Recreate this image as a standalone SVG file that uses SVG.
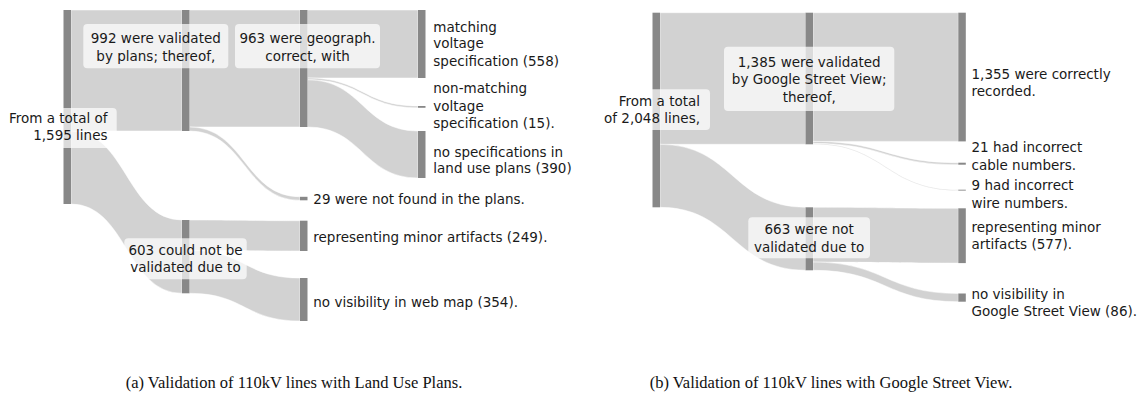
<svg xmlns="http://www.w3.org/2000/svg" width="1140" height="401" viewBox="0 0 1140 401">
<style>
.bar{fill:#888888}
.lk{fill:#d2d2d2;stroke:#ffffff;stroke-width:0.5}
.box{fill:#ffffff;fill-opacity:0.7}
text{font-family:"DejaVu Sans",sans-serif;font-size:13.5px;fill:#1a1a1a}
.mid{text-anchor:middle}
.end{text-anchor:end}
.cap{font-family:"Liberation Serif","Times New Roman",serif;font-size:16.5px;fill:#111;text-anchor:middle}
</style>
<rect width="1140" height="401" fill="#ffffff"/>
<g id="connectors">
<path class="lk" d="M71 10 L182 10 L182 131 L71 131 Z"/>
<path class="lk" d="M71 131 C126.5 131 126.5 220 182 220 L182 293.3 C126.5 293.3 126.5 204 71 204 Z"/>
<path class="lk" d="M189.5 10 L300 10 L300 127 L189.5 127 Z"/>
<path class="lk" d="M189.5 127 C244.75 127 244.75 196.8 300 196.8 L300 200.3 C244.75 200.3 244.75 131 189.5 131 Z"/>
<path class="lk" d="M189.5 220 C244.75 220 244.75 220.7 300 220.7 L300 251 C244.75 251 244.75 250.3 189.5 250.3 Z"/>
<path class="lk" d="M189.5 250.3 C244.75 250.3 244.75 278 300 278 L300 321 C244.75 321 244.75 293.3 189.5 293.3 Z"/>
<path class="lk" d="M307.5 10 L418 10 L418 78 L307.5 78 Z"/>
<path class="lk" d="M307.5 78 C362.75 78 362.75 106 418 106 L418 107.8 C362.75 107.8 362.75 79.8 307.5 79.8 Z"/>
<path class="lk" d="M307.5 79.8 C362.75 79.8 362.75 131 418 131 L418 178 C362.75 178 362.75 127 307.5 127 Z"/>
<path class="lk" d="M660 12.7 L805.5 12.7 L805.5 144.3 L660 144.3 Z"/>
<path class="lk" d="M660 144.3 C732.75 144.3 732.75 207.3 805.5 207.3 L805.5 270.3 C732.75 270.3 732.75 207.3 660 207.3 Z"/>
<path class="lk" d="M813 12.7 L958.3 12.7 L958.3 141.4 L813 141.4 Z"/>
<path class="lk" d="M813 141.4 C885.65 141.4 885.65 162.7 958.3 162.7 L958.3 164.7 C885.65 164.7 885.65 143.4 813 143.4 Z"/>
<path class="lk" d="M813 143.4 C885.65 143.4 885.65 189.7 958.3 189.7 L958.3 190.6 C885.65 190.6 885.65 144.3 813 144.3 Z"/>
<path class="lk" d="M813 207.3 C885.65 207.3 885.65 208.3 958.3 208.3 L958.3 263.1 C885.65 263.1 885.65 262.1 813 262.1 Z"/>
<path class="lk" d="M813 262.1 C885.65 262.1 885.65 293.5 958.3 293.5 L958.3 301.7 C885.65 301.7 885.65 270.3 813 270.3 Z"/>
</g>
<g id="a-total">
<rect class="bar" x="63.5" y="10" width="7.5" height="194"/>
<rect class="box" x="1" y="108" width="115.7" height="40" rx="4"/>
<text class="end" x="107.5" y="123.3">From a total of</text>
<text class="end" x="107.5" y="140">1,595 lines</text>
</g>
<g id="a-validated">
<rect class="bar" x="182" y="10" width="7.5" height="121"/>
<rect class="box" x="83.3" y="24" width="145" height="44.3" rx="4"/>
<text class="mid" x="155.8" y="43.3">992 were validated</text>
<text class="mid" x="155.8" y="61">by plans; thereof,</text>
</g>
<g id="a-notvalidated">
<rect class="bar" x="182" y="220" width="7.5" height="73.3"/>
<rect class="box" x="124.3" y="238.3" width="122.4" height="41" rx="4"/>
<text class="mid" x="185.5" y="255">603 could not be</text>
<text class="mid" x="185.5" y="272.3">validated due to</text>
</g>
<g id="a-geocorrect">
<rect class="bar" x="300" y="10" width="7.5" height="117"/>
<rect class="box" x="235" y="24" width="145" height="44.3" rx="4"/>
<text class="mid" x="307.5" y="43.3">963 were geograph.</text>
<text class="mid" x="307.5" y="61">correct, with</text>
</g>
<g id="a-notfound">
<rect class="bar" x="300" y="196.8" width="7.5" height="3.5"/>
<text x="313.3" y="204">29 were not found in the plans.</text>
</g>
<g id="a-artifacts">
<rect class="bar" x="300" y="220.7" width="7.5" height="30.3"/>
<text x="313.3" y="241.5">representing minor artifacts (249).</text>
</g>
<g id="a-webmap">
<rect class="bar" x="300" y="278" width="7.5" height="43"/>
<text x="313.3" y="307">no visibility in web map (354).</text>
</g>
<g id="a-matching">
<rect class="bar" x="418" y="10" width="7.5" height="68"/>
<text x="433.3" y="31.7">matching</text>
<text x="433.3" y="48.3">voltage</text>
<text x="433.3" y="66">specification (558)</text>
</g>
<g id="a-nonmatching">
<rect class="bar" x="418" y="106" width="7.5" height="1.8"/>
<text x="433.3" y="93.3">non-matching</text>
<text x="433.3" y="111">voltage</text>
<text x="433.3" y="127.7">specification (15).</text>
</g>
<g id="a-nospec">
<rect class="bar" x="418" y="131" width="7.5" height="47"/>
<text x="433.3" y="156.7">no specifications in</text>
<text x="433.3" y="173.3">land use plans (390)</text>
</g>
<g id="b-total">
<rect class="bar" x="652.5" y="12.7" width="7.5" height="194.6"/>
<rect class="box" x="598" y="89.3" width="112" height="40.7" rx="4"/>
<text class="end" x="700" y="106">From a total</text>
<text class="end" x="700" y="123.3">of 2,048 lines,</text>
</g>
<g id="b-validated">
<rect class="bar" x="805.5" y="12.7" width="7.5" height="131.6"/>
<rect class="box" x="724" y="46.7" width="170.3" height="64.3" rx="4"/>
<text class="mid" x="809.2" y="66.7">1,385 were validated</text>
<text class="mid" x="809.2" y="84">by Google Street View;</text>
<text class="mid" x="809.2" y="101.7">thereof,</text>
</g>
<g id="b-notvalidated">
<rect class="bar" x="805.5" y="207.3" width="7.5" height="63"/>
<rect class="box" x="748.3" y="217.3" width="121.7" height="41" rx="4"/>
<text class="mid" x="809.2" y="234.3">663 were not</text>
<text class="mid" x="809.2" y="251.7">validated due to</text>
</g>
<g id="b-correct">
<rect class="bar" x="958.3" y="12.7" width="7.5" height="128.7"/>
<text x="971.5" y="78.8">1,355 were correctly</text>
<text x="971.5" y="96.2">recorded.</text>
</g>
<g id="b-cable">
<rect class="bar" x="958.3" y="162.7" width="7.5" height="2"/>
<text x="971.5" y="152">21 had incorrect</text>
<text x="971.5" y="169.5">cable numbers.</text>
</g>
<g id="b-wire">
<rect class="bar" x="958.3" y="189.7" width="7.5" height="0.9"/>
<text x="971.5" y="190.3">9 had incorrect</text>
<text x="971.5" y="208">wire numbers.</text>
</g>
<g id="b-artifacts">
<rect class="bar" x="958.3" y="208.3" width="7.5" height="54.8"/>
<text x="971.5" y="232">representing minor</text>
<text x="971.5" y="249.3">artifacts (577).</text>
</g>
<g id="b-streetview">
<rect class="bar" x="958.3" y="293.5" width="7.5" height="8.2"/>
<text x="971.5" y="298.6">no visibility in</text>
<text x="971.5" y="316">Google Street View (86).</text>
</g>
<text class="cap" x="294" y="388">(a) Validation of 110kV lines with Land Use Plans.</text>
<text class="cap" x="831" y="388">(b) Validation of 110kV lines with Google Street View.</text>
</svg>
